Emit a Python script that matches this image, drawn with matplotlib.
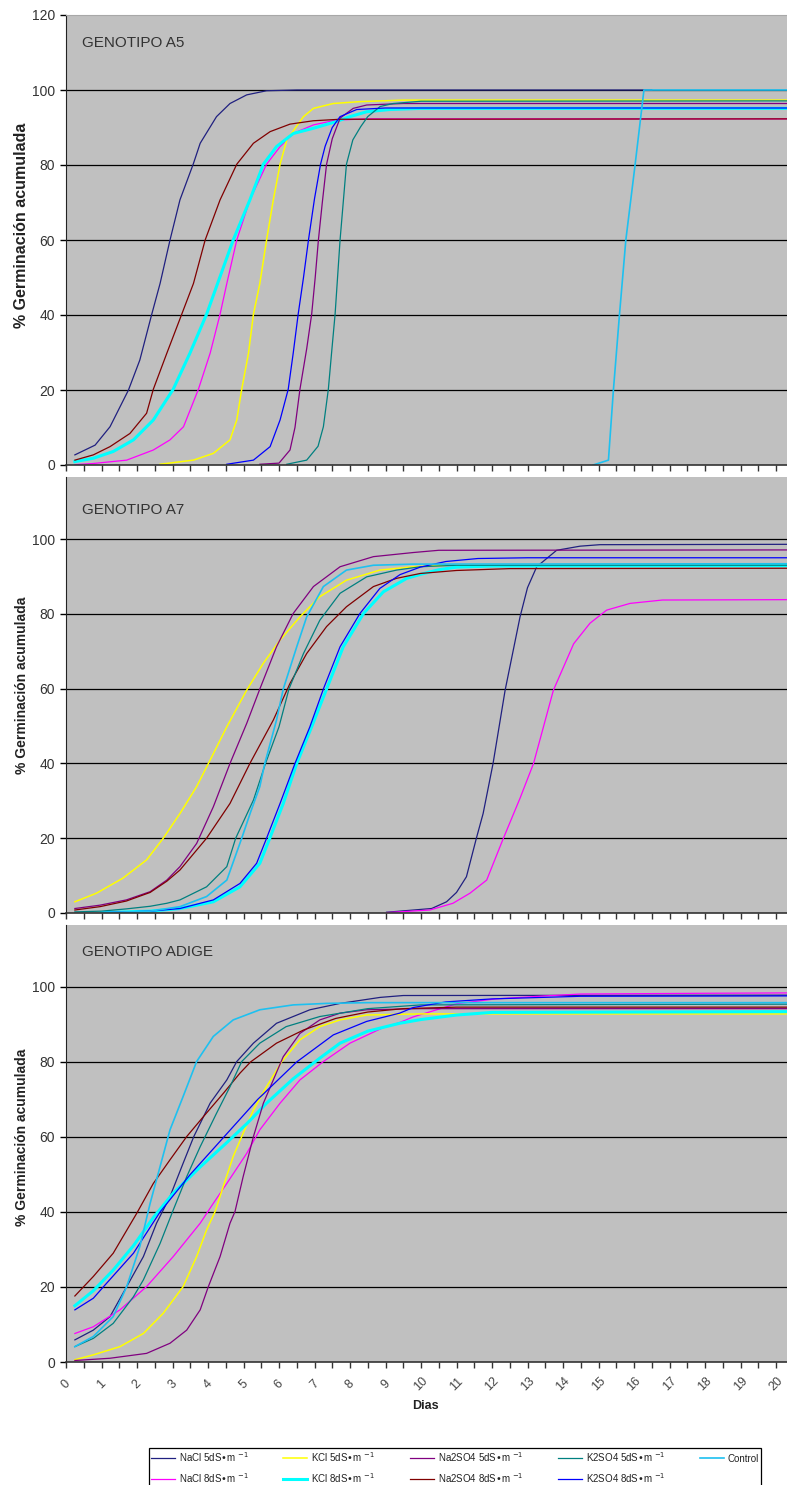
import matplotlib
matplotlib.use('Agg')
import matplotlib.pyplot as plt
import numpy as np

plt.rcParams['font.family'] = ['Liberation Sans', 'DejaVu Sans']

# series in excel order (legend is filled column by column)
names = ['NaCl 5dS•m $^{-1}$', 'NaCl 8dS•m $^{-1}$', 'KCl 5dS•m $^{-1}$', 'KCl 8dS•m $^{-1}$',
         'Na2SO4 5dS•m $^{-1}$', 'Na2SO4 8dS•m $^{-1}$', 'K2SO4 5dS•m $^{-1}$', 'K2SO4 8dS•m $^{-1}$',
         'Control']
colors = ['#202080', '#FF00FF', '#FFFF00', '#00FFFF', '#800080', '#800000', '#008080', '#0000FF', '#1EC0F0']
widths = [0.9, 0.9, 1.1, 2.2, 0.9, 0.9, 0.9, 0.9, 1.2]

# (dia, % germinacion acumulada)
# GENOTIPO A5
a5_nacl5 = [(0.25, 2.7), (0.82, 5.3), (1.24, 10.2), (1.76, 20), (2.08, 28), (2.41, 40), (2.65, 48.4),
            (2.93, 60), (3.21, 70.7), (3.59, 80.4), (3.78, 85.8), (4.24, 92.9), (4.62, 96.4),
            (5.09, 98.7), (5.65, 99.8), (6.5, 100), (16.5, 100)]
a5_nacl8 = [(0.25, 0.1), (0.77, 0.4), (1.71, 1.3), (2.46, 4), (2.93, 6.7), (3.31, 10.2), (3.73, 20.2),
            (4.06, 29.8), (4.34, 40.2), (4.53, 48.4), (4.81, 60), (5.18, 70.7), (5.65, 80.2),
            (6.03, 84.9), (6.4, 88.4), (6.97, 90.7), (7.62, 92), (8.5, 92.3), (20.5, 92.3)]
a5_kcl5 = [(2.65, 0.2), (3.59, 1.3), (4.15, 3.1), (4.62, 6.7), (4.81, 12), (4.95, 20.2), (5.14, 29.8),
           (5.28, 40.2), (5.46, 48.4), (5.65, 60), (5.84, 70.7), (6.03, 80.2), (6.22, 86.7),
           (6.69, 92.9), (6.97, 95.1), (7.53, 96.4), (8.28, 96.9), (9.5, 97.3), (20.5, 97.3)]
a5_kcl8 = [(0.25, 0.9), (0.77, 1.8), (1.33, 3.6), (1.9, 6.7), (2.46, 12), (3.02, 20.2), (3.49, 29.8),
           (3.96, 40.2), (4.24, 47.6), (4.71, 60), (5.18, 70.7), (5.56, 80.2), (5.93, 84.9),
           (6.4, 88.4), (6.97, 89.8), (7.62, 91.6), (8.0, 92.9), (8.47, 94.2), (9.13, 94.8),
           (10, 95.1), (20.5, 95.1)]
a5_na5 = [(5.46, 0.2), (6.0, 0.5), (6.31, 4), (6.45, 10), (6.59, 20.2), (6.78, 31), (6.92, 40.2),
          (7.02, 50), (7.11, 60), (7.22, 70), (7.34, 80.2), (7.5, 87), (7.72, 92.5), (8.09, 95.1),
          (8.47, 96), (9.5, 96.4), (20.5, 96.4)]
a5_na8 = [(0.25, 1.3), (0.77, 2.7), (1.24, 4.9), (1.8, 8.4), (2.27, 13.8), (2.46, 20.2), (2.84, 29.8),
          (3.26, 40.2), (3.59, 48.4), (3.92, 60), (4.34, 70.7), (4.81, 80.2), (5.28, 85.8),
          (5.75, 88.9), (6.31, 90.9), (6.97, 91.8), (7.72, 92.2), (20.5, 92.3)]
a5_k5 = [(6.22, 0.2), (6.78, 1.3), (7.1, 5), (7.25, 10.2), (7.39, 20.2), (7.48, 29.8), (7.58, 40.2),
         (7.72, 60), (7.9, 80.2), (8.08, 86.7), (8.3, 90.2), (8.5, 92.9), (8.85, 95.6), (9.22, 96.4),
         (10, 97), (20.5, 97.1)]
a5_k8 = [(4.53, 0.2), (5.28, 1.3), (5.75, 4.9), (6.03, 12), (6.26, 20.2), (6.4, 29.8), (6.54, 40.2),
         (6.69, 50), (6.83, 60), (7.0, 71), (7.17, 80.2), (7.3, 85), (7.5, 90), (7.72, 92.9),
         (8.19, 94.8), (9, 95.2), (20.5, 95.2)]
a5_ctrl = [(14.85, 0), (15.28, 1.3), (15.42, 20), (15.59, 40), (15.77, 60), (16.03, 80), (16.28, 100),
           (20.5, 100)]

# GENOTIPO A7
a7_nacl5 = [(9.03, 0.2), (10.3, 1.2), (10.72, 3), (11.0, 5.5), (11.28, 9.7), (11.56, 20), (11.75, 26.6),
            (12.03, 40), (12.37, 59.6), (12.79, 79.2), (13.0, 87), (13.26, 92.6), (13.82, 97),
            (14.48, 98.1), (15.04, 98.5), (20.5, 98.6)]
a7_nacl8 = [(9.03, 0.1), (10.25, 0.8), (10.9, 2.6), (11.38, 5.3), (11.85, 8.8), (12.3, 19.5),
            (12.79, 30.7), (13.17, 40), (13.73, 59.6), (14.3, 72), (14.76, 77.5), (15.23, 81),
            (15.89, 82.8), (16.8, 83.7), (20.5, 83.8)]
a7_kcl5 = [(0.25, 3), (0.86, 5.3), (1.6, 9.3), (2.27, 14.2), (2.74, 20), (3.21, 26.6), (3.68, 33.8),
           (4.06, 40.9), (4.53, 49.8), (5.09, 59.6), (5.56, 66.8), (6.03, 73), (6.59, 79.2),
           (7.15, 84.6), (7.9, 89), (8.84, 91.7), (9.78, 92.6), (11, 93.1), (20.5, 93.2)]
a7_kcl8 = [(1.0, 0.1), (2.37, 0.5), (3.21, 1.2), (4.15, 3), (4.9, 7), (5.46, 13.3), (5.74, 20),
           (6.12, 29.3), (6.5, 40), (6.92, 49.8), (7.34, 59.9), (7.81, 71.2), (8.38, 80.1),
           (8.94, 85.9), (9.6, 89.5), (10.0, 90.6), (10.5, 91.8), (11, 92.5), (12, 92.8), (20.5, 92.9)]
a7_na5 = [(0.25, 1.2), (0.96, 2.1), (1.7, 3.5), (2.37, 5.7), (2.84, 8.8), (3.21, 12.4), (3.68, 18.6),
          (4.15, 28.4), (4.62, 40), (5.09, 50.7), (5.46, 59.9), (5.93, 71.2), (6.4, 80.1),
          (6.97, 87.3), (7.72, 92.6), (8.66, 95.3), (9.78, 96.4), (10.5, 97), (20.5, 97.1)]
a7_na8 = [(0.25, 0.8), (0.96, 1.7), (1.7, 3.2), (2.37, 5.5), (2.84, 8.5), (3.21, 11.5), (3.96, 20),
          (4.62, 29.3), (5.18, 40), (5.84, 51.6), (6.31, 61.4), (6.78, 69.4), (7.34, 76.6),
          (7.9, 81.9), (8.66, 87.3), (9.31, 89.5), (9.98, 90.8), (11, 91.6), (12.5, 92.1), (20.5, 92.2)]
a7_k5 = [(0.25, 0.3), (1.0, 0.5), (1.7, 1.1), (2.37, 1.8), (2.84, 2.6), (3.21, 3.5), (3.96, 7),
         (4.53, 12.4), (4.78, 20), (5.28, 30.2), (5.62, 40), (6.0, 49.8), (6.28, 59.9), (6.69, 69.4),
         (7.15, 78.3), (7.72, 85.5), (8.47, 89.9), (9.31, 91.7), (9.98, 92.6), (11, 93), (20.5, 93)]
a7_k8 = [(1.0, 0.1), (2.37, 0.5), (3.21, 1.2), (4.15, 3.5), (4.9, 7.9), (5.37, 13.3), (5.65, 20),
         (6.03, 29.3), (6.45, 40), (6.87, 49.8), (7.25, 59.9), (7.72, 71.2), (8.28, 80.1),
         (8.84, 86.8), (9.41, 90.5), (9.98, 92.5), (10.7, 94), (11.6, 94.8), (13, 95), (20.5, 95)]
a7_ctrl = [(1.0, 0.1), (2.37, 0.5), (3.21, 1.7), (3.96, 4.4), (4.53, 8.8), (4.95, 20), (5.2, 27),
           (5.46, 33.8), (5.6, 40), (5.93, 51.6), (6.12, 59.9), (6.5, 71.2), (6.78, 79.2),
           (7.25, 87.3), (7.9, 91.7), (8.66, 93), (9.78, 93.3), (20.5, 93.4)]

# GENOTIPO ADIGE
ad_nacl5 = [(0.25, 5.9), (0.77, 8.5), (1.24, 12.1), (1.71, 20.1), (2.18, 28.1), (2.55, 37), (2.93, 44.1),
            (3.3, 53), (3.6, 60.1), (4.06, 69), (4.53, 75.2), (4.81, 80.1), (5.28, 85), (5.93, 90.3),
            (6.87, 93.9), (7.72, 95.6), (8.85, 97.2), (9.5, 97.7), (20.5, 97.8)]
ad_nacl8 = [(0.25, 7.6), (0.77, 9.4), (1.52, 13.9), (2.27, 20.1), (3.02, 28.1), (3.78, 37), (4.15, 42.3),
            (4.53, 47.6), (5.09, 55.6), (5.46, 61.9), (6.03, 69), (6.59, 75.2), (7.25, 80.1),
            (8.0, 85), (8.9, 89), (9.4, 90.5), (9.78, 92), (11, 95.5), (12.1, 96.8), (13.5, 97.6),
            (14.5, 98.1), (18, 98.3), (20.5, 98.4)]
ad_kcl5 = [(0.25, 0.6), (0.77, 1.9), (1.52, 4.1), (2.18, 7.6), (2.74, 13), (3.3, 20.1), (3.68, 28.1),
           (3.96, 35.2), (4.2, 40.1), (4.43, 46.8), (4.71, 54.8), (4.95, 60.1), (5.28, 67.2),
           (5.65, 73.4), (6.08, 80.1), (6.59, 85.9), (7.15, 89.4), (7.72, 91.2), (8.47, 92.5),
           (10, 92.8), (20.5, 92.8)]
ad_kcl8 = [(0.25, 15), (0.77, 19), (1.33, 24.5), (1.9, 31), (2.46, 38.5), (3.02, 45), (3.78, 52),
           (4.53, 58.5), (5.09, 63.5), (5.65, 69), (6.4, 75.5), (7.15, 81), (7.72, 85), (8.5, 88.2),
           (9.4, 90.3), (10, 91.3), (11, 92.5), (12, 93.2), (20.5, 93.4)]
ad_na5 = [(0.25, 0.4), (1.24, 1), (2.27, 2.3), (2.93, 5), (3.4, 8.5), (3.78, 13.9), (4.01, 20.1),
          (4.34, 28.1), (4.62, 37), (4.76, 40.1), (4.99, 49.4), (5.28, 60.1), (5.56, 69), (5.84, 75.2),
          (6.12, 81.4), (6.59, 87.6), (7.15, 91.2), (7.72, 93), (8.47, 93.9), (10, 94.2), (20.5, 94.2)]
ad_na8 = [(0.25, 17.6), (0.77, 22.8), (1.33, 29), (1.99, 39.6), (2.46, 47.6), (2.93, 53.9), (3.4, 60.1),
          (3.87, 65.4), (4.43, 71.6), (4.9, 77), (5.2, 80), (5.93, 85), (6.69, 88.5), (7.6, 91.6),
          (8.5, 93.3), (9.5, 94.2), (11, 94.6), (20.5, 94.6)]
ad_k5 = [(0.25, 4.1), (0.77, 6.3), (1.33, 10.3), (1.9, 17.4), (2.18, 21.9), (2.65, 31.6), (3.02, 40.5),
         (3.4, 49.4), (3.78, 57.4), (4.24, 66.3), (4.62, 73.4), (4.95, 80.1), (5.46, 85), (6.2, 89.4),
         (7.15, 92.1), (8.5, 94.2), (10, 95.2), (20.5, 95.4)]
ad_k8 = [(0.25, 13.9), (0.77, 17), (1.05, 20), (1.9, 29), (2.65, 40), (3.5, 50), (4.45, 60), (5.4, 70),
         (6.5, 80), (7.53, 87.2), (8.47, 90.8), (9.4, 93), (9.78, 94.5), (10.7, 96), (12, 96.8),
         (14.5, 97.5), (20.5, 97.6)]
ad_ctrl = [(0.25, 4.1), (0.77, 6.8), (1.33, 12.1), (1.71, 20.1), (2.08, 30.8), (2.37, 42.3), (2.65, 52.1),
           (2.93, 61.9), (3.3, 70.8), (3.68, 80.1), (4.15, 86.8), (4.71, 91.2), (5.46, 93.9),
           (6.4, 95.2), (7.34, 95.6), (8.5, 95.8), (20.5, 95.8)]

titles = ['GENOTIPO A5', 'GENOTIPO A7', 'GENOTIPO ADIGE']
series = [
    [a5_nacl5, a5_nacl8, a5_kcl5, a5_kcl8, a5_na5, a5_na8, a5_k5, a5_k8, a5_ctrl],
    [a7_nacl5, a7_nacl8, a7_kcl5, a7_kcl8, a7_na5, a7_na8, a7_k5, a7_k8, a7_ctrl],
    [ad_nacl5, ad_nacl8, ad_kcl5, ad_kcl8, ad_na5, ad_na8, ad_k5, ad_k8, ad_ctrl],
]
grid_vals = [20, 40, 60, 80, 100]
day_ticks = np.arange(0, 20.01, 0.5)
day_labels = [str(int(d)) if d == int(d) else '' for d in day_ticks]

W, H = 787, 1485
fig = plt.figure(figsize=(W / 100, H / 100), dpi=100)

# pixel boxes of the three excel charts: (top, bottom, ymax, title y, ylabel centre)
boxes = [(15, 465, 120, 112.5, 225), (477, 913, 116.6, 107.8, 685), (925, 1362, 116.5, 109.3, 1137)]
x0 = 66
px_day = 35.5

axes = []
for i, (top, bot, ymax, ty, ylab_y) in enumerate(boxes):
    ax = fig.add_axes([x0 / W, 1 - bot / H, (W - x0) / W, (bot - top) / H])
    ax.set_facecolor('#C0C0C0')
    for g in grid_vals:
        ax.axhline(g, color='black', lw=0.9, zorder=1)
    for pts, name, col, lw in zip(series[i], names, colors, widths):
        d, v = zip(*pts)
        ax.plot(d, v, color=col, lw=lw, label=name, zorder=2, solid_joinstyle='round')
    ax.set_xlim(0, (W - x0) / px_day)
    ax.set_ylim(0, ymax)
    ax.set_yticks(np.arange(0, ymax + 0.1, 20))
    ax.set_xticks(day_ticks)
    for s in ['top', 'right']:
        ax.spines[s].set_visible(False)
    if i == 0:
        ax.spines['top'].set_visible(True)
        ax.spines['top'].set_color('#A8A8A8')
    ax.spines['left'].set_color('#222222')
    ax.spines['bottom'].set_color('#333333')
    ax.spines['bottom'].set_linewidth(1.2)
    ax.tick_params(axis='y', direction='out', length=4, width=1, pad=4, labelsize=10, labelcolor='#333333')
    ax.tick_params(axis='x', direction='out', length=4, width=1, color='#333333')
    ax.text(0.45, ty, titles[i], fontsize=11, color='#333333', va='center')
    fig.text(22 / W, 1 - ylab_y / H, '% Germinación acumulada', rotation=90, ha='center', va='center',
             fontsize=11.5 if i == 0 else 10, fontweight='bold', color='#222222')
    if i < 2:
        ax.tick_params(axis='x', labelbottom=False)
    else:
        ax.set_xticklabels(day_labels, rotation=45, ha='center', va='center', rotation_mode='anchor',
                           fontsize=9, color='#444444')
        ax.tick_params(axis='x', pad=12)
    axes.append(ax)

fig.text(425 / W, 1 - 1406 / H, 'Dias', ha='center', va='center', fontsize=9, fontweight='bold',
         color='#222222')

handles, labels = axes[2].get_legend_handles_labels()
leg = fig.legend(handles, labels, loc='upper left', ncol=5, mode='expand',
                 bbox_to_anchor=(144 / W, 1 - 1443 / H, 622 / W, 0), fontsize=7,
                 frameon=True, fancybox=False, edgecolor='black', framealpha=1,
                 handlelength=2.5, handletextpad=0.4, labelspacing=0.75, borderpad=0.2)
leg.get_frame().set_linewidth(0.9)
for t in leg.get_texts():
    t.set_color('#222222')

fig.savefig('out.png', dpi=100, facecolor='white')
